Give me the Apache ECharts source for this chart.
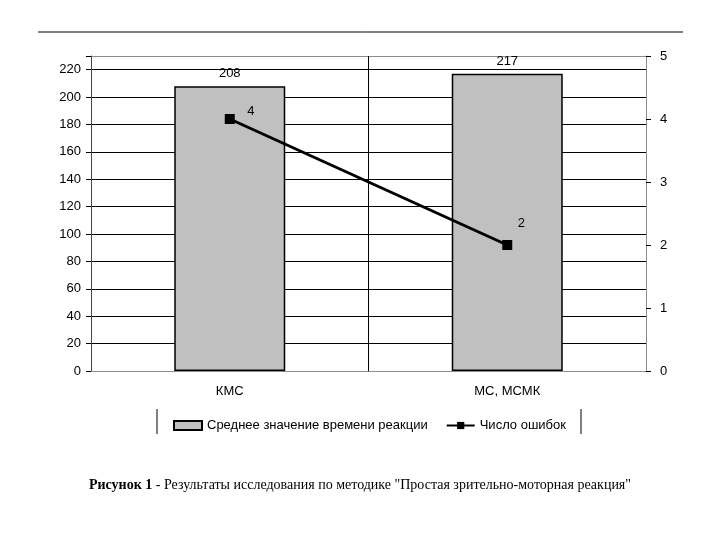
<!DOCTYPE html>
<html>
<head>
<meta charset="utf-8">
<script src="https://cdn.jsdelivr.net/npm/echarts@6/dist/echarts.min.js"></script>
<style>
  html, body { margin: 0; padding: 0; background: #fff; }
  #chart { width: 720px; height: 540px; }
</style>
</head>
<body>
<div id="chart"></div>
<script>
var categories = ['КМС', 'МС, МСМК'];
var reactionTime = [208, 217];
var errorCount = [4, 2];
var leftTicks = [0, 230, 20];   // min, max, interval
var rightTicks = [0, 5, 1];

var barName = 'Среднее значение времени реакции';
var lineName = 'Число ошибок';

// label offsets for the error points
var errLabelOffset = [[21, -8], [14, -22]];

var chart = echarts.init(document.getElementById('chart'));

// 12 black grid lines, the last one (at max) is the grey frame
var hLineColors = [];
for (var i = 0; i < 12; i++) hLineColors.push('#000');
hLineColors.push('#8c8c8c');

var option = {
    animation: false,
    textStyle: { fontFamily: 'Liberation Sans, Arial, sans-serif' },
    grid: { left: 91, right: 74, top: 56, bottom: 169, show: false },
    legend: {
        left: 168, top: 414,
        itemGap: 18, itemWidth: 28, itemHeight: 9,
        textStyle: { fontSize: 13, color: '#000', fontFamily: 'Liberation Sans, Arial, sans-serif' },
        data: [{ name: barName, icon: 'rect' }, lineName]
    },
    xAxis: {
        type: 'category',
        data: categories,
        axisLine: { lineStyle: { color: '#8c8c8c', width: 1 } },
        axisTick: { show: false },
        axisLabel: { color: '#000', fontSize: 13, margin: 14 },
        splitLine: { show: true, lineStyle: { color: ['#444', '#000', '#8c8c8c'], width: 1 } }
    },
    yAxis: [{
        type: 'value',
        min: leftTicks[0], max: leftTicks[1], interval: leftTicks[2],
        axisLine: { show: true, lineStyle: { color: '#444' } },
        axisTick: { show: true, length: 5, lineStyle: { color: '#000' } },
        axisLabel: {
            color: '#000', fontSize: 13, margin: 10,
            formatter: function (v) { return v > 220 ? '' : v; }
        },
        splitLine: { show: true, lineStyle: { color: hLineColors, width: 1 } }
    }, {
        type: 'value',
        position: 'right',
        min: rightTicks[0], max: rightTicks[1], interval: rightTicks[2],
        axisLine: { show: true, lineStyle: { color: '#8c8c8c' } },
        axisTick: { show: true, length: 5, lineStyle: { color: '#000' } },
        axisLabel: { color: '#000', fontSize: 13, margin: 14 },
        splitLine: { show: false }
    }],
    series: [{
        name: barName,
        type: 'bar',
        barWidth: 111,
        data: reactionTime,
        itemStyle: { color: '#c0c0c0', borderColor: '#000', borderWidth: 1.5 },
        label: { show: true, position: 'top', distance: 6, color: '#000', fontSize: 13 },
        z: 3
    }, {
        name: lineName,
        type: 'line',
        yAxisIndex: 1,
        data: errorCount.map(function (v, i) {
            return { value: v, label: { offset: errLabelOffset[i] } };
        }),
        symbol: 'rect',
        symbolSize: 10,
        lineStyle: { color: '#000', width: 3 },
        itemStyle: { color: '#000' },
        label: { show: true, position: 'inside', color: '#000', fontSize: 13 },
        z: 5
    }],
    graphic: [
        { type: 'line', shape: { x1: 38, y1: 32, x2: 683, y2: 32 }, style: { stroke: '#000', lineWidth: 1 } },
        { type: 'line', shape: { x1: 157, y1: 409, x2: 157, y2: 434 }, style: { stroke: '#000', lineWidth: 1 } },
        { type: 'line', shape: { x1: 581, y1: 409, x2: 581, y2: 434 }, style: { stroke: '#000', lineWidth: 1 } },
        {
            type: 'text', left: 'center', top: 478,
            style: {
                text: '{b|Рисунок 1} - Результаты исследования по методике "Простая зрительно-моторная реакция"',
                font: '14px "Liberation Serif", serif',
                fill: '#000',
                rich: { b: { fontWeight: 'bold', fontSize: 14, fontFamily: 'Liberation Serif, serif' } }
            }
        }
    ]
};

chart.setOption(option);
</script>
</body>
</html>
